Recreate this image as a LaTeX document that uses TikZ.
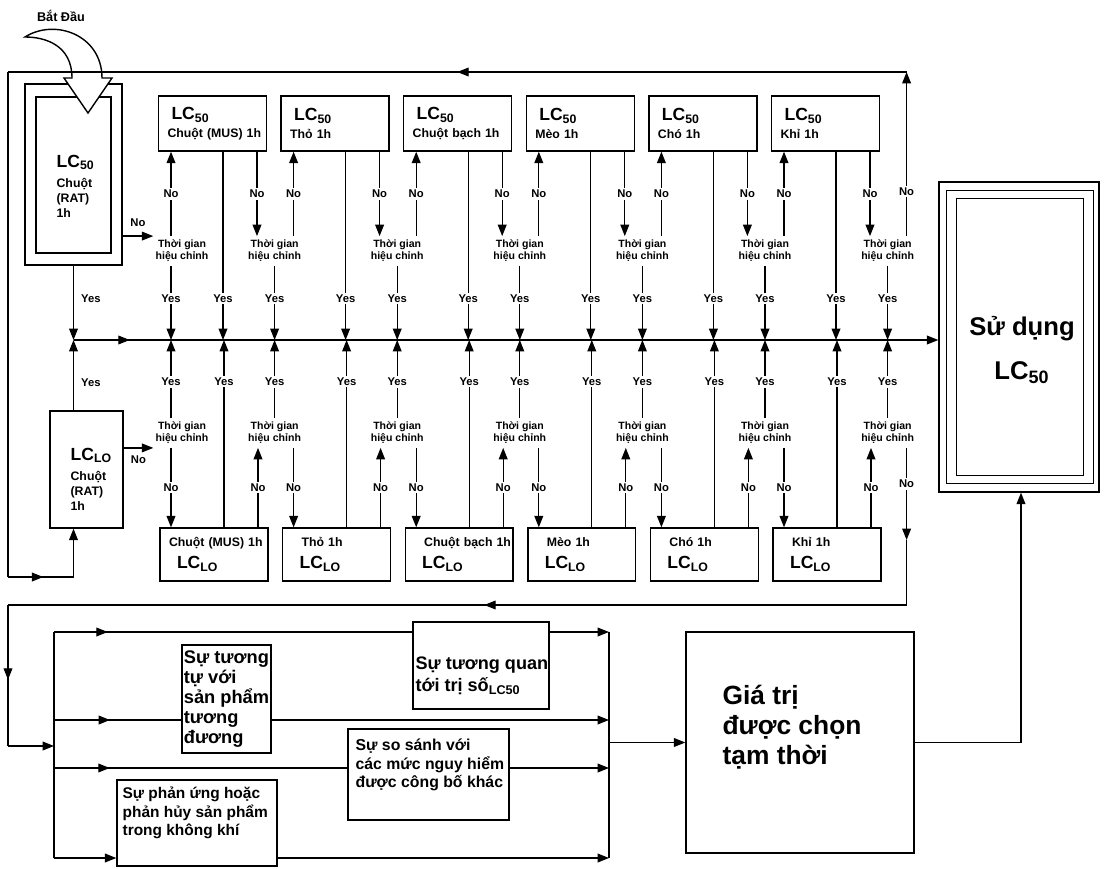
\documentclass[tikz,border=0pt]{standalone}
\usepackage{fontspec}
\setmainfont{Liberation Sans}
\usetikzlibrary{arrows.meta,calc,decorations.markings}
\newcommand{\LC}[1]{{\fontsize{10}{12}\selectfont LC\textsubscript{#1}}}
\tikzset{
  arr/.style={-{Triangle[length=6.5pt,width=5pt]}},
  midarr/.style={postaction={decorate},decoration={markings,mark=at position #1 with {\arrow{Triangle[length=6.5pt,width=5pt]}}}},
  bx/.style={draw,line width=0.8pt,fill=white,inner sep=0pt},
  lcbox/.style={bx,minimum width=2.16cm,minimum height=1.1cm,inner xsep=0.18cm,text width=1.8cm,align=left,font=\bfseries\fontsize{7}{10}\selectfont},
  lobox/.style={lcbox,minimum height=1.06cm,font=\bfseries\fontsize{7}{12.5}\selectfont},
  lbl/.style={fill=white,inner sep=1pt,font=\bfseries\fontsize{6.4}{7}\selectfont},
  tg/.style={align=center,inner xsep=1pt,inner ysep=2pt,font=\bfseries\fontsize{6}{6.8}\selectfont},
  txt/.style={anchor=west,inner sep=0pt,align=left}
}
\begin{document}
\begin{tikzpicture}[x=0.02cm,y=-0.02cm,line width=0.7pt]
\path[fill=white,use as bounding box] (0,0) rectangle (1106,869);

% rat boxes
\node[bx,minimum width=1.94cm,minimum height=3.62cm] (ratlc) at (73.5,174.5) {};
\node[bx,minimum width=1.5cm,minimum height=3.12cm] (ratlcin) at (73.5,175) {};
\node[txt,font=\bfseries\fontsize{7}{8.5}\selectfont] (ratlctxt) at (56,186) {\LC{50}\\[3pt]Chuột\\(RAT)\\1h};
\node[bx,minimum width=1.46cm,minimum height=2.34cm] (ratlo) at (86.5,469.5) {};
\node[txt,font=\bfseries\fontsize{7}{8.5}\selectfont] (ratlotxt) at (70,479) {\LC{LO}\\[3pt]Chuột\\(RAT)\\1h};

% start arrow
\node[font=\bfseries\fontsize{7.2}{8}\selectfont] (batdau) at (61,16) {Bắt Đầu};
\draw[fill=white,line width=0.8pt] (25,37) .. controls (55,18) and (102,35) .. (102,78) -- (112,78) -- (88,113) -- (64,78) -- (72,78) .. controls (72,45) and (45,37) .. (25,37) -- cycle;

% species boxes
\foreach \idx/\spec/\indt in {1/{Chuột (MUS) 1h}/0cm,2/{Thỏ 1h}/0.2cm,3/{Chuột bạch 1h}/0.2cm,4/{Mèo 1h}/0.2cm,5/{Chó 1h}/0.2cm,6/{Khỉ 1h}/0.2cm} {
  \pgfmathsetmacro\lx{158+122.6*(\idx-1)}
  \node[lcbox] (lc\idx) at (\lx+54.5,123.5) {\hspace*{0.08cm}\LC{50}\\\mbox{\spec}};
  \node[lobox] (lo\idx) at (\lx+56,554.5) {\mbox{\hspace*{\indt}\spec}\\\hspace*{0.16cm}\LC{LO}};
}

% correction time nodes
\foreach \idx in {1,...,7} {
  \pgfmathsetmacro\lx{158+122.6*(\idx-1)}
  \pgfmathsetmacro\xt{\idx==1 ? 182 : \lx-6}
  \node[tg] (hc\idx) at (\xt,251) {Thời gian\\hiệu chỉnh};
  \node[tg] (hl\idx) at (\xt,433) {Thời gian\\hiệu chỉnh};
}

% result box
\node[bx,minimum width=3.2cm,minimum height=6.2cm] (sudung) at (1019,337) {};
\draw[line width=0.8pt] ($(sudung.north west)+(8,9)$) rectangle ($(sudung.south east)+(-6,-9)$);
\draw[line width=0.8pt] ($(sudung.north west)+(18,17)$) rectangle ($(sudung.south east)+(-16,-17)$);
\node[align=center,font=\bfseries\fontsize{14.6}{25}\selectfont] (sudungtxt) at (1022,350) {Sử dụng\\LC\textsubscript{50}};

\coordinate (main) at (73.5,340);
\draw[arr,midarr=.065] (main) -- (sudung.west |- main);

% rat connectors
\draw[arr] (ratlc.south) -- node[lbl,fill=none,right=3pt,pos=.44] {Yes} (main);
\draw[arr] (ratlo.north -| main) -- node[lbl,fill=none,right=3pt,pos=.4] {Yes} (main);
\draw[arr] (ratlc.east |- hc1.north west) -- node[lbl,fill=none,above=4pt] {No} (hc1.north west);
\draw[arr] (ratlo.east |- hl1.south west) -- node[lbl,fill=none,below=3pt] {No} (hl1.south west);

% column connectors
\foreach \idx in {1,...,6} {
  \pgfmathsetmacro\lx{158+122.6*(\idx-1)}
  \pgfmathtruncatemacro\nxt{\idx+1}
  \pgfmathsetmacro\xu{\lx+13}
  \pgfmathsetmacro\xm{\lx+65}
  \pgfmathsetmacro\xd{\lx+99}
  \draw[arr] (hc\idx.north -| \xu,0) -- node[lbl] {No} (lc\idx.south -| \xu,0);
  \draw[arr] (lc\idx.south -| \xm,0) -- node[lbl,pos=.78] {Yes} (main -| \xm,0);
  \draw[arr] (lc\idx.south -| \xd,0) -- node[lbl] {No} (hc\nxt.north -| \xd,0);
  \pgfmathsetmacro\xm{\lx+66}
  \pgfmathsetmacro\xd{\lx+100}
  \draw[arr] (hl\idx.south -| \xu,0) -- node[lbl] {No} (lo\idx.north -| \xu,0);
  \draw[arr] (lo\idx.north -| \xm,0) -- node[lbl,pos=.78] {Yes} (main -| \xm,0);
  \draw[arr] (lo\idx.north -| \xd,0) -- node[lbl] {No} (hl\nxt.south -| \xd,0);
}
\draw[arr] (hc1.south -| 171,0) -- node[lbl,pos=.44] {Yes} (main -| 171,0);
\draw[arr] (hl1.north -| 171,0) -- node[lbl,pos=.46] {Yes} (main -| 171,0);
\foreach \idx in {2,...,7} {
  \draw[arr] (hc\idx.south) -- node[lbl,pos=.44] {Yes} (main -| hc\idx.south);
  \draw[arr] (hl\idx.north) -- node[lbl,pos=.46] {Yes} (main -| hl\idx.north);
}

% upper loop back to LC_LO
\coordinate (frTR) at (906.6,72);
\coordinate (frTL) at (8,72);
\coordinate (frBL) at (8,577);
\draw[arr] (hc7.north -| frTR) -- node[lbl,pos=.27] {No} (frTR);
\draw[midarr=.5] (frTR) -- (frTL);
\draw (frTL) -- (frBL);
\draw[arr,midarr=.31] (frBL) -| (ratlo.south -| main);

% lower section
\node[bx,minimum width=2.72cm,minimum height=1.74cm] (tuongquan) at (481,665.5) {};
\node[txt,font=\bfseries\fontsize{10.3}{12.5}\selectfont] (tuongquantxt) at (415,676) {Sự tương quan\\tới trị số\textsubscript{LC50}};
\node[bx,minimum width=1.78cm,minimum height=2.16cm,align=left,font=\bfseries\fontsize{10.4}{11.3}\selectfont] (tuongtu) at (226.5,699) {Sự tương\\tự với\\sản phẩm\\tương\\đương};
\node[bx,minimum width=3.22cm,minimum height=1.82cm] (sosanh) at (428.5,774.5) {};
\node[txt,font=\bfseries\fontsize{9}{10.5}\selectfont] (sosanhtxt) at (355,765) {Sự so sánh với\\các mức nguy hiểm\\được công bố khác};
\node[bx,minimum width=3.2cm,minimum height=1.72cm] (phanung) at (197,823) {};
\node[txt,font=\bfseries\fontsize{8.8}{10.5}\selectfont] (phanungtxt) at (122,813) {Sự phản ứng hoặc\\phản hủy sản phẩm\\trong không khí};

\coordinate (lb1) at (54,632);
\coordinate (lb2) at (54,720);
\coordinate (lb3) at (54,768);
\coordinate (lb4) at (54,858);
\coordinate (rb1) at (609,632);
\coordinate (rb2) at (609,720);
\coordinate (rb3) at (609,768);
\coordinate (rb4) at (609,858);
\draw (lb1) -- (lb4);
\draw (rb1) -- (rb4);
\draw[midarr=.15] (lb1) -- (tuongquan.west |- lb1);
\draw[arr] (tuongquan.east |- lb1) -- (rb1);
\draw[midarr=.44] (lb2) -- (tuongtu.west |- lb2);
\draw[arr] (tuongtu.east |- lb2) -- (rb2);
\draw[midarr=.19] (lb3) -- (sosanh.west |- lb3);
\draw[arr] (sosanh.east |- lb3) -- (rb3);
\draw[arr] (lb4) -- (phanung.west |- lb4);
\draw[arr] (phanung.east |- lb4) -- (rb4);

% lower loop back
\coordinate (fbA) at (906.6,540);
\coordinate (fbR) at (906.6,605);
\coordinate (fbL) at (8,605);
\coordinate (fbD) at (8,746);
\draw[arr] (hl7.south -| fbA) -- node[lbl,pos=.39] {No} (fbA);
\draw (fbA) -- (fbR);
\draw[midarr=.47] (fbR) -- (fbL);
\draw[midarr=.53] (fbL) -- (fbD);
\draw[arr] (fbD) -- (fbD -| lb1);

% chosen value
\node[bx,minimum width=4.56cm,minimum height=4.42cm] (giatri) at (800,742.5) {};
\node[txt,font=\bfseries\fontsize{15}{17}\selectfont] (giatritxt) at (722,727) {Giá trị\\được chọn\\tạm thời};
\draw[arr] (rb1 |- giatri.west) -- (giatri.west);
\draw[arr] (giatri.east) -| (sudung.south -| 1021,0);
\end{tikzpicture}
\end{document}
